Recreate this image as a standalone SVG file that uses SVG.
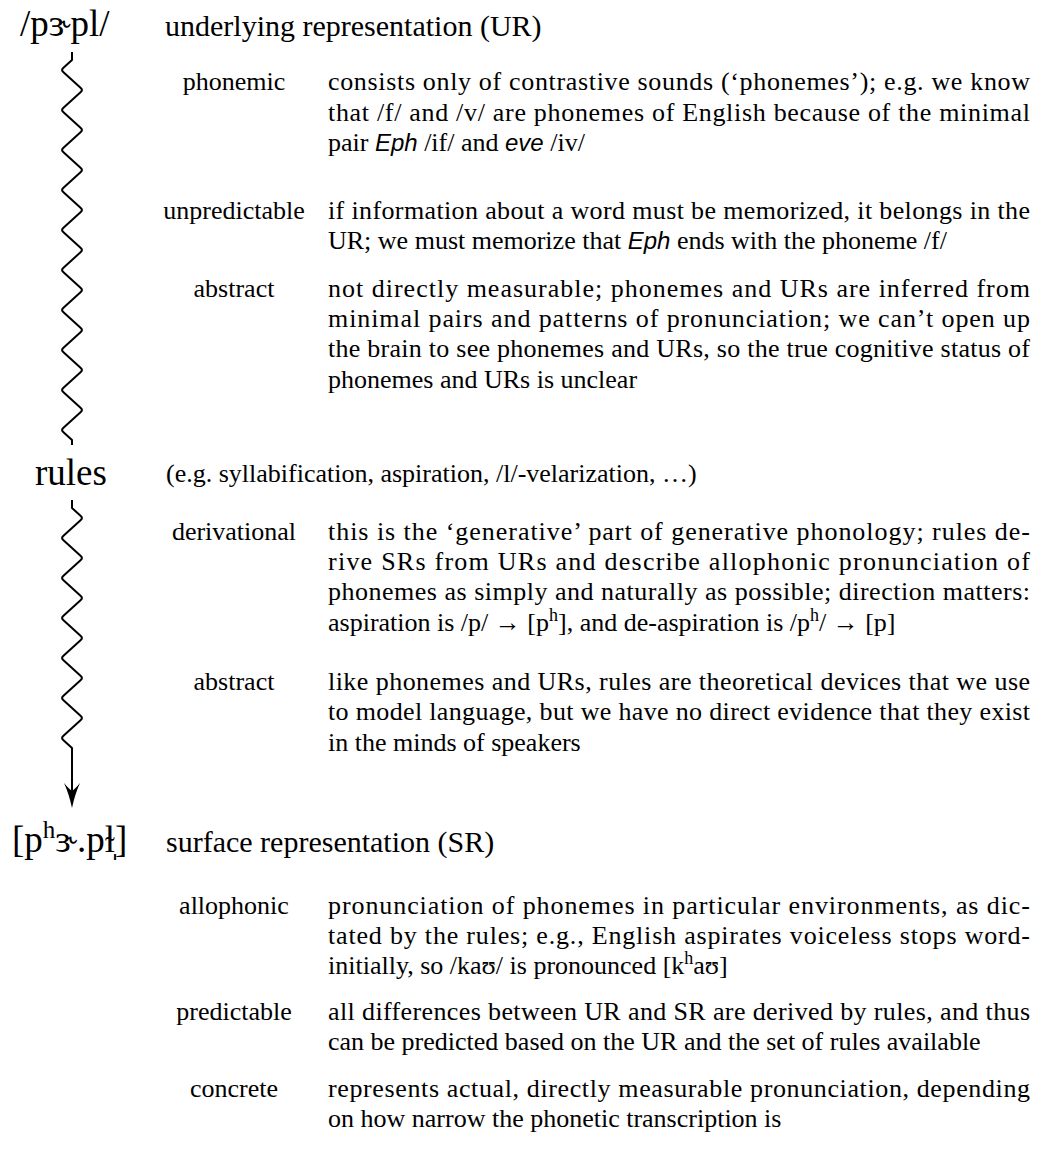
<svg xmlns="http://www.w3.org/2000/svg" width="1043" height="1170" viewBox="0 0 1043 1170">
<style>
text { font-family: "Liberation Serif", "DejaVu Serif", serif; fill: #000; }
.big { font-size: 37px; }
.title { font-size: 30px; }
.b { font-size: 26px; }
.lab { font-size: 26px; text-anchor: middle; }
.it { font-family: "Liberation Sans", "DejaVu Sans", sans-serif; font-style: italic; font-size: 24px; }
.wig { fill: none; stroke: #000; stroke-width: 2; stroke-linejoin: round; }
</style>
<defs>
<marker id="ah" markerUnits="userSpaceOnUse" viewBox="-26 -10 28 20" markerWidth="28" markerHeight="20" refX="-8" refY="0" orient="auto">
<path d="M0,0 Q-14,-3 -25,-8 Q-19,-3 -17,0 Q-19,3 -25,8 Q-14,3 0,0Z" fill="#000"/>
</marker>
</defs>
<rect width="1043" height="1170" fill="#fff"/>
<g id="connectors">
<path class="wig" d="M72,52 V60 L63.2,68 Q61,70 63.2,72 l17.6,16 q2.2,2 0,4 l-17.6,16 q-2.2,2 0,4 l17.6,16 q2.2,2 0,4 l-17.6,16 q-2.2,2 0,4 l17.6,16 q2.2,2 0,4 l-17.6,16 q-2.2,2 0,4 l17.6,16 q2.2,2 0,4 l-17.6,16 q-2.2,2 0,4 l17.6,16 q2.2,2 0,4 l-17.6,16 q-2.2,2 0,4 l17.6,16 q2.2,2 0,4 l-17.6,16 q-2.2,2 0,4 l17.6,16 q2.2,2 0,4 l-17.6,16 q-2.2,2 0,4 l17.6,16 q2.2,2 0,4 l-17.6,16 q-2.2,2 0,4 l17.6,16 q2.2,2 0,4 l-17.6,16 q-2.2,2 0,4 L72,440 V445"/>
<path class="wig" marker-end="url(#ah)" d="M72,500 V508 L80.8,516 Q83,518 80.8,520 l-17.6,16 q-2.2,2 0,4 l17.6,16 q2.2,2 0,4 l-17.6,16 q-2.2,2 0,4 l17.6,16 q2.2,2 0,4 l-17.6,16 q-2.2,2 0,4 l17.6,16 q2.2,2 0,4 l-17.6,16 q-2.2,2 0,4 l17.6,16 q2.2,2 0,4 l-17.6,16 q-2.2,2 0,4 l17.6,16 q2.2,2 0,4 l-17.6,16 q-2.2,2 0,4 L72,748 V800"/>
</g>
<g id="ur">
<text class="big" x="20" y="36">/pɝpl/</text>
<text class="title" x="165" y="36">underlying representation (UR)</text>
</g>
<g id="ur-phonemic">
<text class="lab" x="234" y="90">phonemic</text>
<text class="b" x="328" y="90" textLength="702">consists only of contrastive sounds (‘phonemes’); e.g. we know</text>
<text class="b" x="328" y="121" textLength="702">that /f/ and /v/ are phonemes of English because of the minimal</text>
<text class="b" x="328" y="151">pair <tspan class="it">Eph</tspan> /if/ and <tspan class="it">eve</tspan> /iv/</text>
</g>
<g id="ur-unpredictable">
<text class="lab" x="234" y="219">unpredictable</text>
<text class="b" x="328" y="219" textLength="702">if information about a word must be memorized, it belongs in the</text>
<text class="b" x="328" y="249">UR; we must memorize that <tspan class="it">Eph</tspan> ends with the phoneme /f/</text>
</g>
<g id="ur-abstract">
<text class="lab" x="234" y="297">abstract</text>
<text class="b" x="328" y="297" textLength="702">not directly measurable; phonemes and URs are inferred from</text>
<text class="b" x="328" y="327" textLength="702">minimal pairs and patterns of pronunciation; we can’t open up</text>
<text class="b" x="328" y="357" textLength="702">the brain to see phonemes and URs, so the true cognitive status of</text>
<text class="b" x="328" y="388">phonemes and URs is unclear</text>
</g>
<g id="rules">
<text class="big" x="35" y="485">rules</text>
<text class="b" x="166" y="482">(e.g. syllabification, aspiration, /l/-velarization, …)</text>
</g>
<g id="rules-derivational">
<text class="lab" x="234" y="540">derivational</text>
<text class="b" x="328" y="540" textLength="702">this is the ‘generative’ part of generative phonology; rules de-</text>
<text class="b" x="328" y="570" textLength="702">rive SRs from URs and describe allophonic pronunciation of</text>
<text class="b" x="328" y="600" textLength="702">phonemes as simply and naturally as possible; direction matters:</text>
<text class="b" x="328" y="631">aspiration is /p/ → [p<tspan font-size="18" dy="-10">h</tspan><tspan dy="10">], and de-aspiration is /p</tspan><tspan font-size="18" dy="-10">h</tspan><tspan dy="10">/ → [p]</tspan></text>
</g>
<g id="rules-abstract">
<text class="lab" x="234" y="690">abstract</text>
<text class="b" x="328" y="690" textLength="702">like phonemes and URs, rules are theoretical devices that we use</text>
<text class="b" x="328" y="720" textLength="702">to model language, but we have no direct evidence that they exist</text>
<text class="b" x="328" y="751">in the minds of speakers</text>
</g>
<g id="sr">
<text class="big" x="12" y="852">[p<tspan font-size="25" dy="-14">h</tspan><tspan dy="14">ɝ.pɫ̩]</tspan></text>
<text class="title" x="166" y="852">surface representation (SR)</text>
</g>
<g id="sr-allophonic">
<text class="lab" x="234" y="914">allophonic</text>
<text class="b" x="328" y="914" textLength="702">pronunciation of phonemes in particular environments, as dic-</text>
<text class="b" x="328" y="944" textLength="702">tated by the rules; e.g., English aspirates voiceless stops word-</text>
<text class="b" x="328" y="974">initially, so /kaʊ/ is pronounced [k<tspan font-size="18" dy="-10">h</tspan><tspan dy="10">aʊ]</tspan></text>
</g>
<g id="sr-predictable">
<text class="lab" x="234" y="1020">predictable</text>
<text class="b" x="328" y="1020" textLength="702">all differences between UR and SR are derived by rules, and thus</text>
<text class="b" x="328" y="1050">can be predicted based on the UR and the set of rules available</text>
</g>
<g id="sr-concrete">
<text class="lab" x="234" y="1097">concrete</text>
<text class="b" x="328" y="1097" textLength="702">represents actual, directly measurable pronunciation, depending</text>
<text class="b" x="328" y="1127">on how narrow the phonetic transcription is</text>
</g>
</svg>
